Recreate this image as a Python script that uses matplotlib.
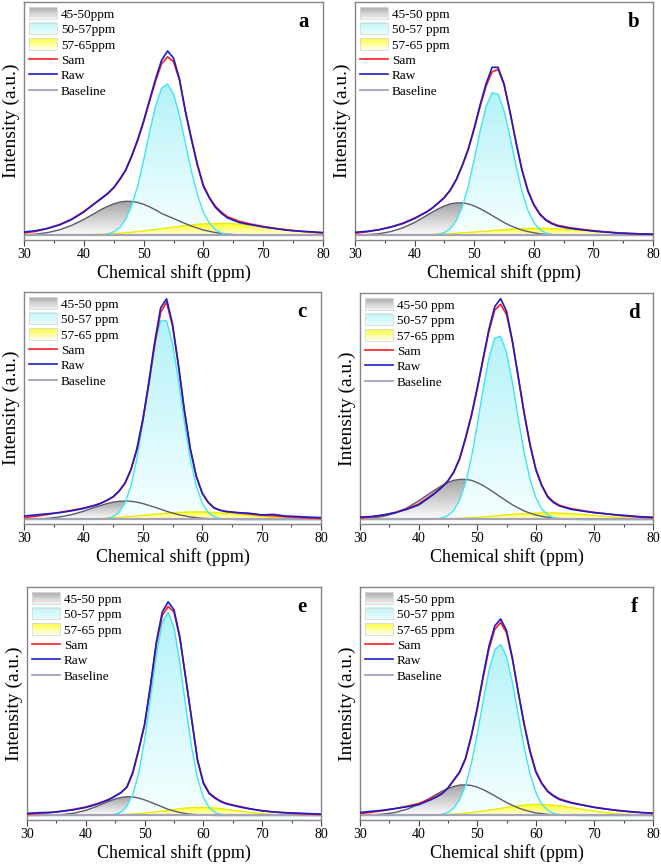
import numpy as np
import matplotlib
matplotlib.use("Agg")
import matplotlib.pyplot as plt
from matplotlib.path import Path
from matplotlib.patches import Rectangle, Patch
from matplotlib.lines import Line2D
from matplotlib.legend_handler import HandlerBase
from matplotlib.colors import LinearSegmentedColormap

plt.rcParams['font.family'] = ['Liberation Serif', 'DejaVu Serif']

# chemical shift grid (ppm), shared by all curves
shift = [30, 32, 34, 36, 38, 40, 42, 43, 44, 45, 46, 47, 48, 49, 50, 51, 52, 53, 54, 55,
         56, 57, 58, 59, 60, 61, 62, 63, 64, 66, 68, 70, 72, 74, 76, 78, 80]

# ---- panel a
raw_a = [0.014, 0.020, 0.030, 0.045, 0.068, 0.100, 0.140, 0.160, 0.180, 0.205, 0.240, 0.280, 0.340, 0.410, 0.490, 0.580, 0.670, 0.750, 0.790,
         0.760, 0.670, 0.530, 0.410, 0.300, 0.210, 0.160, 0.120, 0.095, 0.075, 0.055, 0.045, 0.036, 0.029, 0.022, 0.018, 0.015, 0.012]
sam_a = [0.010, 0.017, 0.030, 0.047, 0.070, 0.102, 0.140, 0.158, 0.178, 0.203, 0.238, 0.278, 0.338, 0.405, 0.485, 0.575, 0.660, 0.735, 0.765,
         0.745, 0.665, 0.530, 0.415, 0.305, 0.215, 0.163, 0.125, 0.100, 0.080, 0.060, 0.048, 0.038, 0.030, 0.023, 0.018, 0.014, 0.010]
p1_a = [0.002, 0.005, 0.012, 0.024, 0.043, 0.068, 0.097, 0.112, 0.124, 0.135, 0.142, 0.146, 0.145, 0.141, 0.133, 0.122, 0.109, 0.094, 0.083,
        0.072, 0.061, 0.050, 0.040, 0.031, 0.023, 0.017, 0.012, 0.008, 0.005, 0.002, 0, 0, 0, 0, 0, 0, 0]
p2_a = [0, 0, 0, 0, 0, 0, 0, 0.002, 0.006, 0.015, 0.033, 0.068, 0.126, 0.211, 0.321, 0.443, 0.555, 0.630, 0.649,
        0.606, 0.513, 0.394, 0.275, 0.174, 0.099, 0.052, 0.024, 0.010, 0.004, 0, 0, 0, 0, 0, 0, 0, 0]
p3_a = [0, 0, 0.0003, 0.001, 0.001, 0.002, 0.004, 0.005, 0.006, 0.007, 0.009, 0.011, 0.013, 0.016, 0.019, 0.022, 0.025, 0.028, 0.032,
        0.035, 0.038, 0.041, 0.044, 0.047, 0.049, 0.050, 0.051, 0.051, 0.051, 0.048, 0.043, 0.037, 0.030, 0.024, 0.017, 0.012, 0.008]

# ---- panel b
raw_b = [0.013, 0.017, 0.024, 0.035, 0.050, 0.072, 0.100, 0.118, 0.140, 0.163, 0.195, 0.240, 0.300, 0.370, 0.460, 0.560, 0.650, 0.720, 0.720,
         0.650, 0.530, 0.400, 0.280, 0.190, 0.130, 0.090, 0.065, 0.050, 0.040, 0.030, 0.024, 0.018, 0.014, 0.010, 0.008, 0.006, 0.005]
sam_b = [0.009, 0.015, 0.024, 0.036, 0.052, 0.074, 0.100, 0.117, 0.138, 0.161, 0.193, 0.238, 0.298, 0.367, 0.455, 0.553, 0.640, 0.700, 0.712,
         0.645, 0.530, 0.402, 0.284, 0.194, 0.133, 0.093, 0.068, 0.053, 0.043, 0.033, 0.026, 0.020, 0.015, 0.011, 0.008, 0.006, 0.004]
p1_b = [0.001, 0.003, 0.007, 0.016, 0.032, 0.055, 0.085, 0.100, 0.114, 0.126, 0.135, 0.139, 0.139, 0.135, 0.126, 0.114, 0.100, 0.085, 0.070,
        0.055, 0.042, 0.032, 0.023, 0.016, 0.011, 0.007, 0.004, 0.003, 0.002, 0.001, 0, 0, 0, 0, 0, 0, 0]
p2_b = [0, 0, 0, 0, 0, 0, 0, 0.002, 0.005, 0.012, 0.029, 0.063, 0.122, 0.210, 0.325, 0.448, 0.553, 0.611, 0.605,
        0.535, 0.424, 0.300, 0.190, 0.108, 0.055, 0.025, 0.010, 0.004, 0.001, 0, 0, 0, 0, 0, 0, 0, 0]
p3_b = [0, 0, 0.0003, 0.001, 0.001, 0.002, 0.003, 0.004, 0.005, 0.006, 0.007, 0.009, 0.011, 0.012, 0.014, 0.016, 0.018, 0.020, 0.022,
        0.024, 0.026, 0.027, 0.028, 0.029, 0.030, 0.030, 0.030, 0.029, 0.028, 0.026, 0.022, 0.018, 0.014, 0.011, 0.007, 0.005, 0.003]

# ---- panel c
raw_c = [0.015, 0.020, 0.025, 0.030, 0.038, 0.048, 0.062, 0.072, 0.085, 0.100, 0.125, 0.160, 0.220, 0.310, 0.440, 0.600, 0.780, 0.930, 0.970,
         0.860, 0.680, 0.480, 0.310, 0.190, 0.115, 0.075, 0.050, 0.040, 0.035, 0.030, 0.027, 0.020, 0.022, 0.015, 0.013, 0.010, 0.008]
sam_c = [0.008, 0.014, 0.022, 0.031, 0.040, 0.050, 0.063, 0.072, 0.084, 0.099, 0.123, 0.158, 0.217, 0.305, 0.432, 0.590, 0.765, 0.910, 0.955,
         0.850, 0.675, 0.478, 0.310, 0.190, 0.117, 0.076, 0.052, 0.041, 0.035, 0.029, 0.024, 0.019, 0.016, 0.012, 0.009, 0.006, 0.004]
p1_c = [0.001, 0.002, 0.005, 0.011, 0.021, 0.036, 0.054, 0.062, 0.070, 0.076, 0.080, 0.081, 0.080, 0.076, 0.070, 0.062, 0.054, 0.045, 0.036,
        0.028, 0.021, 0.016, 0.011, 0.008, 0.005, 0.004, 0.002, 0.001, 0.001, 0, 0, 0, 0, 0, 0, 0, 0]
p2_c = [0, 0, 0, 0, 0, 0, 0, 0.001, 0.004, 0.012, 0.031, 0.072, 0.147, 0.266, 0.428, 0.611, 0.775, 0.873, 0.873,
        0.775, 0.611, 0.428, 0.266, 0.147, 0.072, 0.031, 0.012, 0.004, 0.001, 0, 0, 0, 0, 0, 0, 0, 0]
p3_c = [0, 0, 0.0003, 0.001, 0.001, 0.002, 0.003, 0.004, 0.006, 0.007, 0.009, 0.011, 0.013, 0.015, 0.018, 0.020, 0.023, 0.025, 0.027,
        0.029, 0.031, 0.032, 0.033, 0.033, 0.033, 0.032, 0.031, 0.029, 0.027, 0.023, 0.018, 0.013, 0.009, 0.006, 0.003, 0.002, 0.001]

# ---- panel d
raw_d = [0.011, 0.013, 0.020, 0.030, 0.045, 0.064, 0.100, 0.120, 0.143, 0.170, 0.210, 0.270, 0.360, 0.460, 0.580, 0.710, 0.840, 0.940, 0.975,
         0.920, 0.790, 0.630, 0.470, 0.330, 0.220, 0.150, 0.100, 0.075, 0.060, 0.045, 0.037, 0.030, 0.025, 0.020, 0.016, 0.012, 0.010]
sam_d = [0.006, 0.011, 0.019, 0.031, 0.047, 0.068, 0.103, 0.122, 0.144, 0.170, 0.208, 0.266, 0.355, 0.455, 0.575, 0.705, 0.830, 0.925, 0.950,
         0.905, 0.785, 0.630, 0.473, 0.335, 0.224, 0.153, 0.104, 0.079, 0.063, 0.048, 0.039, 0.031, 0.025, 0.019, 0.014, 0.010, 0.007]
p1_d = [0.003, 0.006, 0.014, 0.028, 0.051, 0.082, 0.117, 0.134, 0.150, 0.163, 0.173, 0.177, 0.177, 0.173, 0.163, 0.150, 0.134, 0.117, 0.099,
        0.082, 0.065, 0.051, 0.038, 0.028, 0.020, 0.014, 0.010, 0.006, 0.004, 0.001, 0, 0, 0, 0, 0, 0, 0]
p2_d = [0, 0, 0, 0, 0, 0, 0.001, 0.002, 0.007, 0.017, 0.040, 0.085, 0.160, 0.271, 0.416, 0.574, 0.714, 0.801, 0.809,
        0.737, 0.605, 0.447, 0.298, 0.179, 0.097, 0.047, 0.021, 0.008, 0.003, 0, 0, 0, 0, 0, 0, 0, 0]
p3_d = [0, 0, 0, 0, 0, 0.001, 0.001, 0.002, 0.002, 0.003, 0.004, 0.005, 0.006, 0.008, 0.009, 0.011, 0.013, 0.015, 0.018,
        0.020, 0.022, 0.024, 0.026, 0.027, 0.028, 0.029, 0.029, 0.029, 0.028, 0.026, 0.022, 0.018, 0.013, 0.009, 0.006, 0.004, 0.002]

# ---- panel e
raw_e = [0.009, 0.012, 0.013, 0.018, 0.025, 0.035, 0.050, 0.060, 0.070, 0.085, 0.100, 0.125, 0.190, 0.290, 0.400, 0.570, 0.760, 0.890, 0.935,
         0.900, 0.780, 0.600, 0.420, 0.240, 0.140, 0.095, 0.075, 0.060, 0.050, 0.038, 0.028, 0.020, 0.015, 0.012, 0.010, 0.008, 0.006]
sam_e = [0.005, 0.009, 0.013, 0.019, 0.027, 0.037, 0.052, 0.061, 0.071, 0.085, 0.100, 0.124, 0.185, 0.285, 0.395, 0.565, 0.750, 0.875, 0.915,
         0.890, 0.775, 0.600, 0.425, 0.245, 0.145, 0.098, 0.078, 0.062, 0.052, 0.040, 0.029, 0.021, 0.015, 0.011, 0.008, 0.006, 0.004]
p1_e = [0, 0, 0.001, 0.004, 0.010, 0.022, 0.041, 0.052, 0.063, 0.072, 0.079, 0.082, 0.081, 0.076, 0.068, 0.058, 0.048, 0.037, 0.027,
        0.019, 0.013, 0.008, 0.005, 0.003, 0.002, 0.001, 0, 0, 0, 0, 0, 0, 0, 0, 0, 0, 0]
p2_e = [0, 0, 0, 0, 0, 0, 0, 0, 0.002, 0.005, 0.015, 0.040, 0.092, 0.186, 0.330, 0.514, 0.703, 0.844, 0.889,
        0.822, 0.668, 0.476, 0.298, 0.164, 0.079, 0.033, 0.012, 0.004, 0.001, 0, 0, 0, 0, 0, 0, 0, 0]
p3_e = [0, 0, 0, 0, 0, 0, 0.0005, 0.001, 0.001, 0.002, 0.003, 0.004, 0.006, 0.008, 0.010, 0.013, 0.016, 0.019, 0.023,
        0.026, 0.030, 0.032, 0.034, 0.035, 0.035, 0.034, 0.032, 0.030, 0.026, 0.019, 0.013, 0.008, 0.004, 0.002, 0.001, 0, 0]

# ---- panel f
raw_f = [0.013, 0.018, 0.023, 0.030, 0.038, 0.047, 0.068, 0.080, 0.095, 0.120, 0.155, 0.190, 0.250, 0.350, 0.470, 0.610, 0.740, 0.830, 0.860,
         0.810, 0.690, 0.540, 0.400, 0.280, 0.190, 0.140, 0.105, 0.085, 0.070, 0.055, 0.045, 0.035, 0.028, 0.022, 0.017, 0.013, 0.010]
sam_f = [0.008, 0.014, 0.021, 0.030, 0.040, 0.052, 0.072, 0.083, 0.097, 0.120, 0.153, 0.188, 0.247, 0.345, 0.465, 0.600, 0.728, 0.815, 0.845,
         0.800, 0.685, 0.540, 0.403, 0.285, 0.195, 0.143, 0.108, 0.088, 0.073, 0.057, 0.046, 0.036, 0.028, 0.021, 0.016, 0.012, 0.009]
p1_f = [0.001, 0.002, 0.006, 0.013, 0.027, 0.049, 0.077, 0.092, 0.106, 0.118, 0.127, 0.133, 0.134, 0.131, 0.124, 0.113, 0.100, 0.086, 0.071,
        0.057, 0.044, 0.033, 0.024, 0.017, 0.011, 0.008, 0.005, 0.003, 0.002, 0.001, 0, 0, 0, 0, 0, 0, 0]
p2_f = [0, 0, 0, 0, 0, 0, 0, 0.002, 0.005, 0.013, 0.032, 0.068, 0.130, 0.226, 0.354, 0.499, 0.634, 0.725, 0.749,
        0.696, 0.583, 0.440, 0.300, 0.184, 0.101, 0.050, 0.023, 0.009, 0.003, 0, 0, 0, 0, 0, 0, 0, 0]
p3_f = [0, 0, 0, 0, 0, 0.001, 0.001, 0.002, 0.003, 0.004, 0.006, 0.007, 0.010, 0.012, 0.016, 0.019, 0.023, 0.027, 0.031,
        0.035, 0.039, 0.042, 0.045, 0.047, 0.048, 0.048, 0.047, 0.045, 0.042, 0.035, 0.027, 0.019, 0.012, 0.007, 0.004, 0.002, 0.001]

labels_a = ['45-50ppm', '50-57ppm', '57-65ppm', 'Sam', 'Raw', 'Baseline']
labels_rest = ['45-50 ppm', '50-57 ppm', '57-65 ppm', 'Sam', 'Raw', 'Baseline']

# axes boxes in pixels: left, right, top, bottom
panels = [
    ('a', (24, 323, 2, 240), raw_a, sam_a, p1_a, p2_a, p3_a, labels_a),
    ('b', (355, 653, 2, 240), raw_b, sam_b, p1_b, p2_b, p3_b, labels_rest),
    ('c', (24, 321, 292, 524), raw_c, sam_c, p1_c, p2_c, p3_c, labels_rest),
    ('d', (360, 653, 293, 524), raw_d, sam_d, p1_d, p2_d, p3_d, labels_rest),
    ('e', (27, 321, 587, 820), raw_e, sam_e, p1_e, p2_e, p3_e, labels_rest),
    ('f', (360, 653, 587, 820), raw_f, sam_f, p1_f, p2_f, p3_f, labels_rest),
]

W, H = 661, 864
grad_cols = {
    'gray': ('#a2a2a2', '#fcfcfc'),
    'cyan': ('#b4f2f8', '#f6ffff'),
    'yellow': ('#ffff1a', '#fffde8'),
}
line_cols = {'gray': '#5c5c6e', 'cyan': '#3ee6f2', 'yellow': '#ecec00'}


def grad_fill(ax, x, y, key):
    x = np.asarray(x, float)
    y = np.asarray(y, float)
    top, bot = grad_cols[key]
    cmap = LinearSegmentedColormap.from_list(key, [bot, top])
    verts = np.column_stack([np.r_[x, x[::-1]], np.r_[y, np.zeros_like(y)]])
    path = Path(verts)
    im = ax.imshow(np.linspace(1, 0, 200)[:, None], extent=[x[0], x[-1], 0, y.max()],
                   aspect='auto', cmap=cmap, origin='upper', zorder=1, interpolation='bilinear')
    im.set_clip_path(path, transform=ax.transData)


class GradHandler(HandlerBase):
    def __init__(self, top, bot, n=10):
        super().__init__()
        self.top, self.bot, self.n = top, bot, n

    def create_artists(self, legend, orig_handle, xdescent, ydescent, width, height, fontsize, trans):
        cmap = LinearSegmentedColormap.from_list('h', [self.bot, self.top])
        arts = []
        for i in range(self.n):
            r = Rectangle((-xdescent, -ydescent + i * height / self.n), width, height / self.n + 0.3,
                          facecolor=cmap(i / (self.n - 1)), edgecolor='none', transform=trans)
            arts.append(r)
        arts.append(Rectangle((-xdescent, -ydescent), width, height, facecolor='none',
                              edgecolor='#d8d8d8', lw=0.6, transform=trans))
        return arts


fig = plt.figure(figsize=(W / 100, H / 100), dpi=100)

for letter, (l, r, t, b), raw, sam, p1, p2, p3, labels in panels:
    ax = fig.add_axes([l / W, 1 - b / H, (r - l) / W, (b - t) / H])

    for comp, key in ((p1, 'gray'), (p2, 'cyan'), (p3, 'yellow')):
        grad_fill(ax, shift, comp, key)
    ax.plot(shift, p3, color=line_cols['yellow'], lw=1.0, zorder=2)
    ax.plot(shift, p1, color=line_cols['gray'], lw=1.0, zorder=2)
    ax.plot(shift, p2, color=line_cols['cyan'], lw=1.0, zorder=2)
    ax.axhline(0, color='#a4a4b4', lw=1.6, zorder=2.5)
    ax.plot(shift, sam, color='#ff1c1c', lw=1.2, zorder=3)
    ax.plot(shift, raw, color='#1c1cc8', lw=1.2, zorder=4)

    ax.set_xlim(30, 80)
    ax.set_ylim(-0.02, 1.0)
    ax.set_xticks([30, 40, 50, 60, 70, 80])
    ax.set_xticks(np.arange(35, 80, 10), minor=True)
    ax.set_yticks([])
    ax.tick_params(axis='x', which='major', length=4, width=0.8, color='#444444', labelsize=10, pad=2)
    ax.tick_params(axis='x', which='minor', length=2.5, width=0.8, color='#444444')
    for sp in ax.spines.values():
        sp.set_color('#858585')
        sp.set_linewidth(1.0)
    ax.set_xlabel('Chemical shift (ppm)', fontsize=13, labelpad=2)
    ax.set_ylabel('Intensity (a.u.)', fontsize=14, labelpad=3)
    ax.text(0.935, 0.915, letter, transform=ax.transAxes, fontsize=15, fontweight='bold',
            ha='center', va='center')

    h_gray = Patch(label=labels[0])
    h_cyan = Patch(label=labels[1])
    h_yel = Patch(label=labels[2])
    handles = [h_gray, h_cyan, h_yel,
               Line2D([], [], color='#ff1c1c', lw=1.2),
               Line2D([], [], color='#1c1cc8', lw=1.2),
               Line2D([], [], color='#9a9ab8', lw=1.2)]
    hmap = {h_gray: GradHandler('#b0b0b0', '#f2f2f2'),
            h_cyan: GradHandler('#c4f6f8', '#e8fcfc'),
            h_yel: GradHandler('#fbfb40', '#fffff0')}
    ax.legend(handles, labels, loc='upper left', frameon=False, fontsize=9.5,
              handlelength=2.1, handleheight=1.0, handletextpad=0.3, labelspacing=0.15,
              borderaxespad=0.2, borderpad=0.2, handler_map=hmap)

fig.savefig('out.png', dpi=100)
